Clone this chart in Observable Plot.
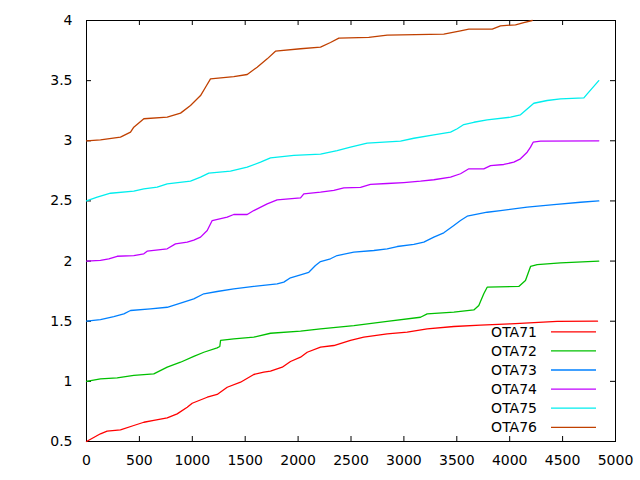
<!DOCTYPE html>
<html>
<head>
<meta charset="utf-8">
<script src="https://cdn.jsdelivr.net/npm/d3@7"></script>
<script src="https://cdn.jsdelivr.net/npm/@observablehq/plot@0.6"></script>
<style>
  html, body { margin: 0; padding: 0; background: #fff; }
  #chart svg { display: block; }
</style>
</head>
<body>
<div id="chart"></div>
<script>
// ---- data ----
const seriesNames = ["OTA71", "OTA72", "OTA73", "OTA74", "OTA75", "OTA76"];
const seriesColors = ["#ff0000", "#00c000", "#0080ff", "#c000ff", "#00eeee", "#c04000"];

const ota71X = [0,132,195,321,447,542,636,763,857,952,999,1141,1235,1330,1456,1581,1676,1739,1850,1928,2023,2086,2212,2338,2495,2621,2842,3031,3220,3472,3724,4008,4449,4830];
const ota71Y = [0.50,0.564,0.586,0.597,0.633,0.660,0.675,0.697,0.730,0.785,0.818,0.868,0.891,0.951,0.993,1.057,1.076,1.085,1.118,1.165,1.201,1.242,1.284,1.298,1.340,1.367,1.395,1.409,1.437,1.456,1.467,1.478,1.498,1.50];

const ota72X = [0,132,290,447,636,763,889,1014,1109,1235,1260,1267,1392,1581,1739,2023,2212,2527,2842,3157,3220,3472,3661,3708,3755,3787,4086,4149,4197,4260,4480,4842];
const ota72Y = [1.0,1.021,1.029,1.049,1.062,1.118,1.159,1.207,1.242,1.279,1.290,1.340,1.354,1.367,1.400,1.417,1.437,1.464,1.498,1.533,1.561,1.575,1.594,1.631,1.728,1.783,1.789,1.838,1.955,1.971,1.985,2.0];

const ota73X = [0,132,258,353,416,605,763,889,1014,1109,1235,1392,1581,1802,1865,1928,2023,2101,2164,2212,2306,2369,2527,2716,2842,2937,3094,3188,3283,3377,3472,3535,3598,3787,3913,4165,4417,4669,4842];
const ota73Y = [1.50,1.514,1.539,1.561,1.589,1.603,1.616,1.650,1.686,1.728,1.747,1.769,1.789,1.811,1.825,1.861,1.886,1.907,1.963,1.996,2.019,2.046,2.074,2.088,2.102,2.121,2.138,2.157,2.199,2.235,2.296,2.337,2.373,2.406,2.420,2.448,2.470,2.489,2.50];

const ota74X = [0,132,211,290,447,542,573,763,841,952,1014,1078,1141,1188,1330,1392,1519,1581,1708,1802,2023,2054,2212,2338,2432,2590,2684,2842,2999,3157,3283,3441,3535,3614,3755,3819,3944,4039,4102,4165,4197,4222,4291,4842];
const ota74Y = [2.0,2.005,2.019,2.040,2.046,2.060,2.082,2.102,2.143,2.157,2.174,2.199,2.254,2.337,2.365,2.387,2.387,2.420,2.476,2.509,2.526,2.559,2.573,2.587,2.609,2.612,2.637,2.645,2.653,2.664,2.676,2.698,2.726,2.767,2.767,2.794,2.803,2.822,2.850,2.905,2.947,2.988,2.997,3.0];

const ota75X = [0,101,227,447,542,668,763,983,1078,1156,1361,1519,1645,1739,1960,2212,2369,2495,2653,2968,3094,3283,3441,3504,3566,3661,3787,4008,4102,4165,4228,4354,4480,4701,4733,4842];
const ota75Y = [2.5,2.531,2.564,2.581,2.601,2.614,2.642,2.664,2.698,2.731,2.747,2.781,2.822,2.858,2.878,2.889,2.919,2.947,2.980,2.997,3.021,3.050,3.072,3.100,3.135,3.154,3.174,3.196,3.216,3.265,3.312,3.335,3.349,3.357,3.390,3.50];

const ota76X = [0,132,321,416,447,542,763,889,983,1078,1125,1172,1392,1519,1613,1708,1786,2023,2212,2306,2385,2668,2842,3377,3535,3614,3835,3913,4055,4133,4213];
const ota76Y = [3.0,3.008,3.030,3.072,3.113,3.183,3.196,3.230,3.293,3.376,3.445,3.515,3.534,3.551,3.612,3.681,3.745,3.765,3.778,3.817,3.853,3.859,3.878,3.887,3.914,3.928,3.928,3.956,3.964,3.983,4.0];

const xTicks = [0,500,1000,1500,2000,2500,3000,3500,4000,4500,5000];
const yTicks = [0.5,1,1.5,2,2.5,3,3.5,4];

// ---- build table ----
const allX = [ota71X, ota72X, ota73X, ota74X, ota75X, ota76X];
const allY = [ota71Y, ota72Y, ota73Y, ota74Y, ota75Y, ota76Y];
const rows = [];
seriesNames.forEach((name, i) => {
  allX[i].forEach((x, j) => rows.push({series: name, x, y: allY[i][j]}));
});

// ---- layout ----
const W = 640, H = 480;
const mL = 86, mR = 25, mT = 20, mB = 39;
const frameW = W - mL - mR, frameH = H - mT - mB;
const tickLen = 5;
const FONT = "DejaVu Sans, sans-serif";

function legendMark() {
  const g = d3.create("svg:g")
    .attr("font-family", FONT)
    .attr("font-size", 14)
    .attr("fill", "#000");
  const right = W - mR;
  const bottom = H - mB;
  const n = seriesNames.length;
  seriesNames.forEach((name, i) => {
    const y = bottom - 13.7 - (n - 1 - i) * 19.1;
    g.append("text")
      .attr("x", right - 78)
      .attr("y", y)
      .attr("dy", "0.36em")
      .attr("text-anchor", "end")
      .text(name);
    g.append("line")
      .attr("x1", right - 64).attr("x2", right - 19)
      .attr("y1", y).attr("y2", y)
      .attr("stroke", seriesColors[i])
      .attr("stroke-width", 1.3);
  });
  return g.node();
}

const chart = Plot.plot({
  width: W,
  height: H,
  marginLeft: mL,
  marginRight: mR,
  marginTop: mT,
  marginBottom: mB,
  style: {fontFamily: FONT, fontSize: "14px", background: "#fff", color: "#000"},
  x: {domain: [0, 5000], label: null},
  y: {domain: [0.5, 4], label: null},
  color: {domain: seriesNames, range: seriesColors},
  marks: [
    Plot.axisX(xTicks, {label: null, tickSize: 0, tickPadding: 14, tickFormat: d => String(d), fontSize: 14, fill: "#000"}),
    Plot.axisY(yTicks, {label: null, tickSize: 0, tickPadding: 14, tickFormat: d => String(d), fontSize: 14, fill: "#000"}),
    // inward ticks, mirrored on all four sides
    Plot.ruleX(xTicks, {x: d => d, insetTop: frameH - tickLen, stroke: "#000"}),
    Plot.ruleX(xTicks, {x: d => d, insetBottom: frameH - tickLen, stroke: "#000"}),
    Plot.ruleY(yTicks, {y: d => d, insetRight: frameW - tickLen, stroke: "#000"}),
    Plot.ruleY(yTicks, {y: d => d, insetLeft: frameW - tickLen, stroke: "#000"}),
    Plot.frame({stroke: "#000", strokeWidth: 1}),
    Plot.line(rows, {x: "x", y: "y", z: "series", stroke: "series", strokeWidth: 1.3, curve: "linear"}),
    legendMark
  ]
});

document.getElementById("chart").appendChild(chart);
</script>
</body>
</html>
